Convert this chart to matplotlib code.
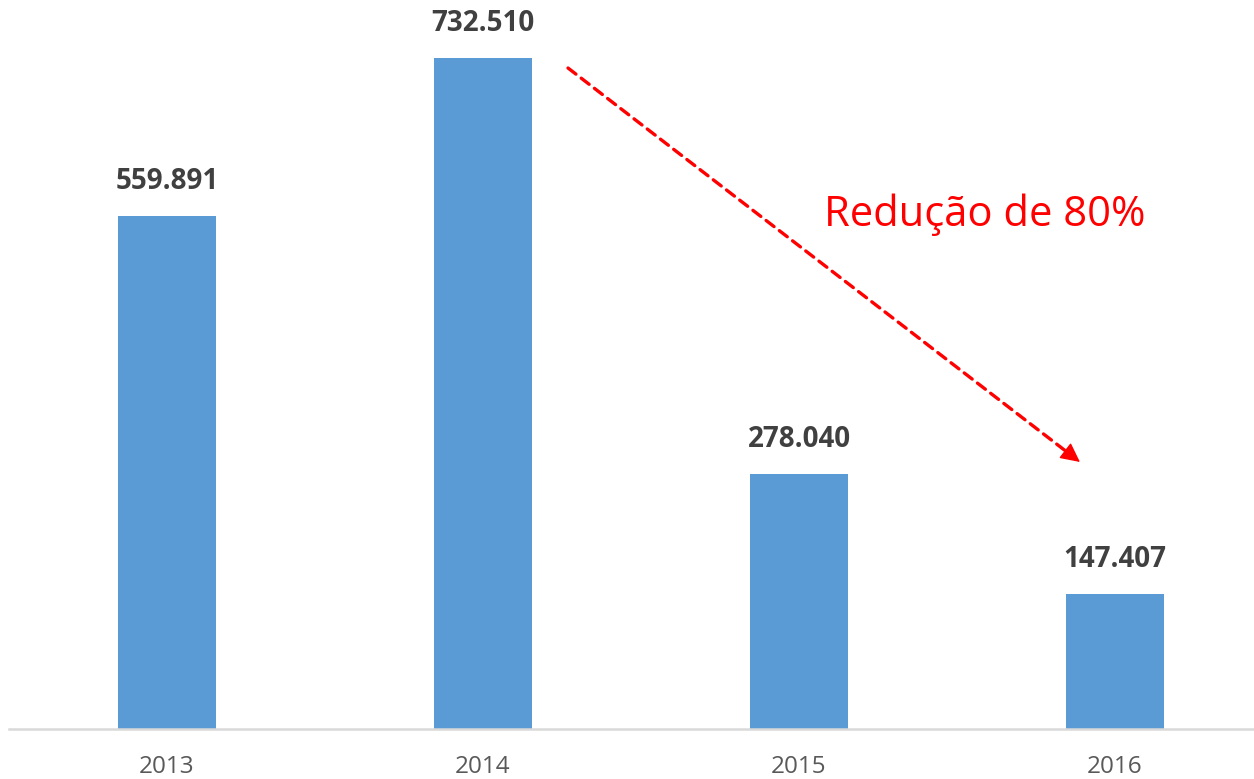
import matplotlib.pyplot as plt

anos = ['2013', '2014', '2015', '2016']
valores = [559.891, 732.510, 278.040, 147.407]
rotulos = ['559.891', '732.510', '278.040', '147.407']

fig = plt.figure(figsize=(12.54, 7.79), dpi=100)
# eixo: base em y=729px, 0.916 px por unidade
ax = fig.add_axes([9 / 1254, 50 / 779, 1264 / 1254, 790 * 0.916 / 779])

x = range(len(anos))
ax.bar(x, valores, width=0.313, color='#5b9bd5', zorder=2)

for xi, v, r in zip(x, valores, rotulos):
    ax.text(xi, v + 22, r, ha='center', va='bottom', fontsize=20,
            fontweight='bold', color='#404040', family='Open Sans')

ax.set_xlim(-0.5, 3.5)
ax.set_ylim(0, 790)
ax.set_xticks(list(x))
ax.set_xticklabels(anos, fontsize=17.5, color='#595959', family='Open Sans')
ax.tick_params(axis='x', length=0, pad=19)
ax.set_yticks([])
for s in ['top', 'right', 'left']:
    ax.spines[s].set_visible(False)
ax.spines['bottom'].set_color('#d9d9d9')
ax.spines['bottom'].set_linewidth(1.8)

# seta vermelha tracejada (linha tracejada + ponta solida)
inicio = (1.269, 721.6)
fim = (2.889, 291.5)
ax.annotate('', xy=fim, xytext=inicio,
            arrowprops=dict(arrowstyle='-', color='red', lw=2.4,
                            linestyle=(0, (3, 2)), shrinkA=0, shrinkB=12))
ax.annotate('', xy=fim, xytext=(2.84, 304.5),
            arrowprops=dict(arrowstyle='-|>', color='red', lw=1,
                            mutation_scale=30, shrinkA=0, shrinkB=0))
ax.text(2.589, 561, 'Redução de 80%', ha='center', va='center',
        fontsize=30, color='red', family='Open Sans')

fig.savefig('out.png', dpi=100)
